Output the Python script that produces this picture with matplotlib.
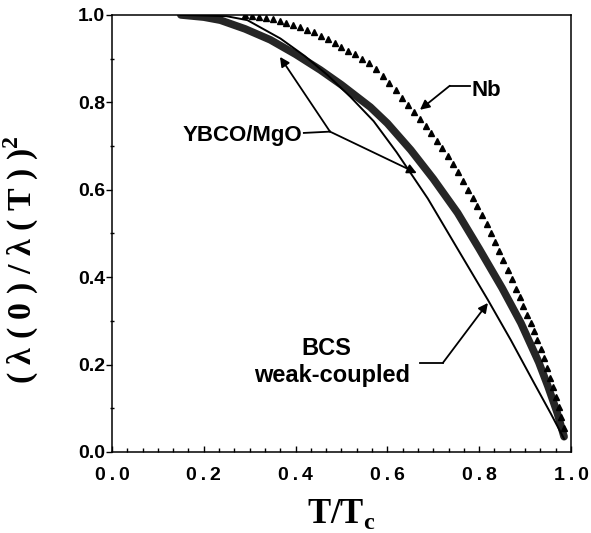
import matplotlib
matplotlib.use('Agg')
import matplotlib.pyplot as plt
from matplotlib.ticker import MultipleLocator, FixedLocator

plt.rcParams['mathtext.fontset'] = 'custom'
plt.rcParams['mathtext.rm'] = 'Liberation Serif:bold'
plt.rcParams['mathtext.bf'] = 'Liberation Serif:bold'

# YBCO/MgO measured curve (thick band)
ybco_t = [0.15, 0.20, 0.236, 0.29, 0.345, 0.40, 0.454, 0.50, 0.563, 0.60,
          0.651, 0.70, 0.753, 0.80, 0.85, 0.891, 0.93, 0.95, 0.97, 0.985]
ybco_r = [1.0, 0.995, 0.988, 0.968, 0.943, 0.91, 0.874, 0.84, 0.789, 0.752,
          0.691, 0.625, 0.547, 0.465, 0.375, 0.295, 0.205, 0.15, 0.09, 0.035]

# BCS weak-coupled (thin line)
bcs_t = [0.15, 0.25, 0.295, 0.367, 0.42, 0.47, 0.52, 0.57, 0.62, 0.688,
         0.75, 0.819, 0.869, 0.92, 0.956, 0.985]
bcs_r = [1.0, 0.997, 0.988, 0.946, 0.906, 0.862, 0.812, 0.757, 0.686, 0.58,
         0.47, 0.348, 0.256, 0.157, 0.088, 0.03]

# Nb (triangles)
nb_t = [0.290, 0.305, 0.320, 0.335, 0.350, 0.365, 0.380, 0.395, 0.410, 0.425,
        0.440, 0.455, 0.470, 0.485, 0.500, 0.515, 0.530, 0.545, 0.560, 0.575,
        0.590, 0.604, 0.618, 0.632, 0.645, 0.658, 0.671, 0.684, 0.696, 0.708,
        0.720, 0.732, 0.743, 0.754, 0.765, 0.776, 0.786, 0.796, 0.806, 0.816,
        0.826, 0.835, 0.844, 0.853, 0.862, 0.871, 0.880, 0.888, 0.896, 0.904,
        0.912, 0.920, 0.927, 0.934, 0.941, 0.948, 0.955, 0.961, 0.967, 0.973,
        0.979, 0.985]
nb_r = [1.000, 0.998, 0.996, 0.993, 0.990, 0.986, 0.982, 0.977, 0.972, 0.966,
        0.960, 0.952, 0.944, 0.935, 0.926, 0.918, 0.910, 0.900, 0.890, 0.876,
        0.861, 0.845, 0.828, 0.810, 0.794, 0.778, 0.762, 0.745, 0.729, 0.712,
        0.695, 0.678, 0.660, 0.640, 0.620, 0.600, 0.582, 0.563, 0.543, 0.522,
        0.500, 0.480, 0.460, 0.439, 0.417, 0.396, 0.374, 0.354, 0.334, 0.314,
        0.295, 0.276, 0.256, 0.236, 0.215, 0.193, 0.170, 0.148, 0.126, 0.104,
        0.080, 0.055]

xticks = [0.0, 0.2, 0.4, 0.6, 0.8, 1.0]
yticks = [0.0, 0.2, 0.4, 0.6, 0.8, 1.0]

fig = plt.figure(figsize=(5.91, 5.33), dpi=100)
ax = fig.add_axes([0.1895, 0.152, 0.7766, 0.82])

ax.plot(ybco_t, ybco_r, color='#262626', lw=5.5, solid_capstyle='round')
ax.plot(bcs_t, bcs_r, color='black', lw=1.4)
ax.plot(nb_t, nb_r, ls='none', marker='^', color='black', ms=4.8)

ax.set_xlim(0, 1)
ax.set_ylim(0, 1)

ax.xaxis.set_major_locator(FixedLocator(xticks))
ax.xaxis.set_minor_locator(MultipleLocator(0.2 / 6))
ax.yaxis.set_major_locator(FixedLocator(yticks))
ax.yaxis.set_minor_locator(MultipleLocator(0.1))
ax.set_xticklabels(['\u2009.\u2009'.join(f'{v:.1f}'.split('.')) for v in xticks])
ax.set_yticklabels([f'{v:.1f}' for v in yticks])

ax.tick_params(axis='x', which='major', direction='in', length=4, width=1, pad=11)
ax.tick_params(axis='x', which='minor', direction='in', length=3, width=1)
ax.tick_params(axis='y', which='major', direction='out', length=4, width=1, pad=1)
ax.tick_params(axis='y', which='minor', direction='inout', length=3, width=1)
for lab in ax.get_xticklabels() + ax.get_yticklabels():
    lab.set_fontfamily(['Liberation Sans', 'DejaVu Sans'])
    lab.set_fontweight('bold')
    lab.set_fontsize(14)

for sp in ax.spines.values():
    sp.set_linewidth(1.1)

fig.text(0.037, 0.512, r'( λ ( 0 ) / λ ( T ) )$^{\mathrm{2}}$', rotation=90,
         ha='center', va='center', family='Liberation Serif',
         weight='bold', fontsize=24.5)
fig.text(0.577, 0.068, r'T/T$_{\mathrm{c}}$', ha='center', va='top',
         family='Liberation Serif', weight='bold', fontsize=25)

tkw = dict(family='Liberation Sans', weight='bold', fontsize=16)
akw = dict(arrowstyle='-|>', lw=1.3, color='black', mutation_scale=14,
           shrinkA=0, shrinkB=0)

# Nb label
ax.text(0.784, 0.826, 'Nb', ha='left', va='center', **tkw)
ax.plot([0.780, 0.736], [0.838, 0.838], color='black', lw=1.3)
ax.annotate('', xy=(0.671, 0.783), xytext=(0.736, 0.838), arrowprops=akw)

# YBCO/MgO label
ax.text(0.285, 0.725, 'YBCO/MgO', ha='center', va='center', **tkw)
ax.plot([0.418, 0.475], [0.73, 0.733], color='black', lw=1.3)
ax.annotate('', xy=(0.366, 0.904), xytext=(0.475, 0.733), arrowprops=akw)
ax.annotate('', xy=(0.664, 0.638), xytext=(0.475, 0.733), arrowprops=akw)

# BCS label
ax.text(0.468, 0.236, 'BCS', ha='center', va='center',
        **{**tkw, 'fontsize': 17})
ax.text(0.479, 0.174, 'weak-coupled', ha='center', va='center',
        **{**tkw, 'fontsize': 17})
ax.plot([0.671, 0.721], [0.204, 0.204], color='black', lw=1.3)
ax.annotate('', xy=(0.819, 0.341), xytext=(0.721, 0.204), arrowprops=akw)

fig.savefig('out.png', dpi=100)
